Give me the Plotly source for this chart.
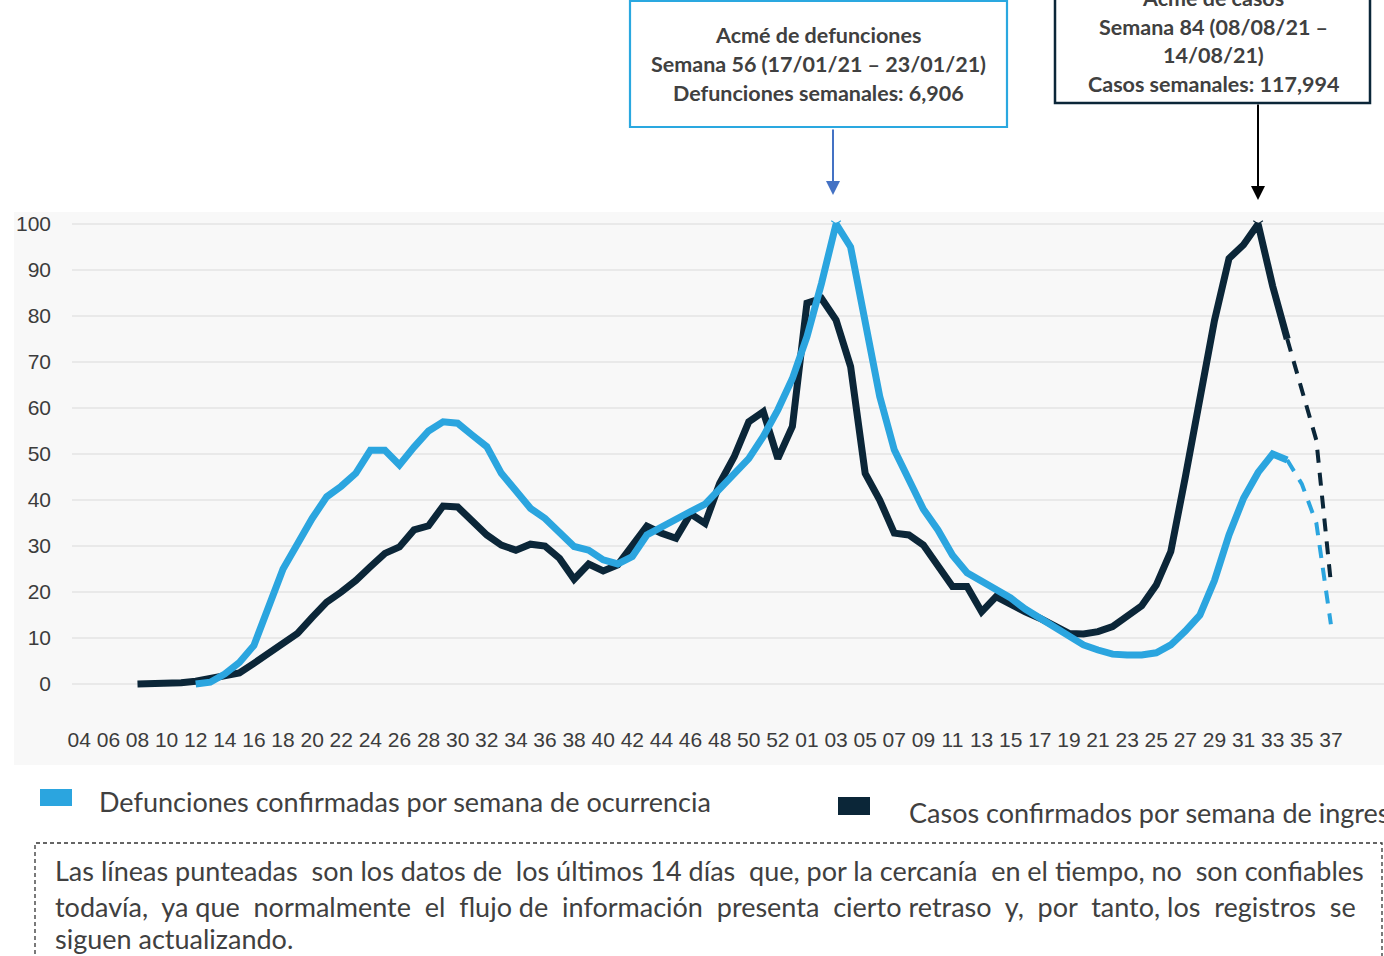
import plotly.graph_objects as go

# ---------------- data ----------------
semanas = [f"2020-{w:02d}" for w in range(4, 54)] + [f"2021-{w:02d}" for w in range(1, 38)]
etiquetas = [s[-2:] for s in semanas]

# Defunciones confirmadas por semana de ocurrencia (% del máximo)
defunciones = [None] * 8 + [
    0, 0.4, 2.2, 4.7, 8.4, 16.7, 25, 30.5, 36, 40.7, 43, 45.8,           # 2020-12 .. 2020-23
    50.8, 50.8, 47.6, 51.5, 55, 57, 56.7, 54.1, 51.6, 45.8, 41.8, 38.2,   # 2020-24 .. 2020-35
    36, 33.1, 29.9, 29.1, 27, 26.1, 27.7, 32.4, 34.2, 35.8, 37.5, 39.1,   # 2020-36 .. 2020-47
    42.3, 45.4, 49, 53.8, 59.6, 66.4,                                     # 2020-48 .. 2020-53
    75.5, 87.1, 100, 95, 79, 62.5, 50.9, 44.5, 38, 33.5, 28, 24.2,        # 2021-01 .. 2021-12
    22.4, 20.5, 18.7, 16.3, 14.3, 12.5, 10.4, 8.5, 7.4, 6.5, 6.3, 6.3,    # 2021-13 .. 2021-24
    6.8, 8.5, 11.5, 15, 22.5, 32.4, 40.4, 46, 50, 48.7, 43.5, 35, 13,     # 2021-25 .. 2021-37
]

# Casos confirmados por semana de ingreso (% del máximo)
casos = [None] * 4 + [
    0, 0, 0, 0.3, 0.6, 1.1, 1.6, 2.4, 4.5, 6.8, 8.7, 11.0,               # 2020-08 .. 2020-19
    14.5, 17.8, 20.0, 22.5, 25.5, 28.4, 29.8, 33.5, 34.4, 38.7, 38.5, 35.3,  # 2020-20 .. 2020-31
    32.4, 30.2, 29.1, 30.4, 30.0, 27.3, 22.8, 26.1, 24.6, 25.9, 29.9, 34.3,  # 2020-32 .. 2020-43
    32.8, 31.7, 37.0, 34.9, 43.6, 49.4, 57.0, 59.2, 49.0, 56.0,            # 2020-44 .. 2020-53
    82.8, 83.8, 79.1, 69.0, 45.8, 40.0, 32.8, 32.4, 30.2, 25.5, 21.2, 21.2,  # 2021-01 .. 2021-12
    15.7, 19.0, 17.2, 15.7, 14.3, 12.8, 11.0, 10.9, 11.4, 12.5, 14.6, 17.0,  # 2021-13 .. 2021-24
    21.5, 28.8, 45.0, 62.0, 79.0, 92.5, 95.5, 100, 86.5, 75.0, 64.0, 53.0, 22.0,  # 2021-25 .. 2021-37
]

ultima_confiable = "2021-34"   # after this week the lines are dashed
ticks_y = list(range(0, 101, 10))

nota = [
    "Las líneas punteadas son los datos de los últimos 14 días que, por la cercanía en el tiempo, no son confiables",
    "todavía, ya que normalmente el flujo de información presenta cierto retraso y, por tanto, los registros se",
    "siguen actualizando.",
]

# ---------------- styling ----------------
AZUL = "#2ba5df"
NEGRO = "#0b2638"
GRIS_TXT = "#404040"
FONT_AX = "Liberation Sans"
FONT_TXT = "Lato"

W, H = 1384, 956
L, R, T, B = 72, 0, 212, 231
PW, PH = W - L - R, H - T - B


def X(px):
    return (px - L) / PW


def Y(py):
    return (H - B - py) / PH


k = semanas.index(ultima_confiable)


def solid(vals):
    return [v if i <= k else None for i, v in enumerate(vals)]


def dashed(vals):
    return [v if i >= k else None for i, v in enumerate(vals)]


def justify(line, n_extra):
    """Emulate justified text by widening n_extra evenly spread word gaps."""
    words = line.split(" ")
    gaps = len(words) - 1
    if n_extra <= 0 or gaps <= 0:
        return line
    chosen = {round((j + 0.5) * gaps / n_extra - 0.5) for j in range(n_extra)}
    out = words[0]
    for g in range(gaps):
        out += (" \u00a0" if g in chosen else " ") + words[g + 1]
    return out


fig = go.Figure()

for vals, col, name in [(casos, NEGRO, "Casos confirmados por semana de ingreso"),
                        (defunciones, AZUL, "Defunciones confirmadas por semana de ocurrencia")]:
    fig.add_trace(go.Scatter(x=semanas, y=solid(vals), mode="lines", name=name,
                             line=dict(color=col, width=7), connectgaps=False,
                             showlegend=False))
    fig.add_trace(go.Scatter(x=semanas, y=dashed(vals), mode="lines",
                             line=dict(color=col, width=4, dash="13px,10px"),
                             showlegend=False))

# small markers at the two maxima
for vals, col in [(defunciones, AZUL), (casos, NEGRO)]:
    m = max(v for v in vals if v is not None)
    idx = vals.index(m)
    fig.add_trace(go.Scatter(x=[semanas[idx]], y=[m], mode="markers",
                             marker=dict(symbol="y-down-open", size=8, color=col,
                                         line=dict(color=col, width=1.2)),
                             showlegend=False))

shapes = []
# light grey chart background
shapes.append(dict(type="rect", xref="paper", yref="paper", x0=X(14), x1=X(1390),
                   y0=Y(765), y1=Y(212), fillcolor="#f8f8f8", line=dict(width=0),
                   layer="below"))
# annotation boxes
shapes.append(dict(type="rect", xref="paper", yref="paper", x0=X(630), x1=X(1007),
                   y0=Y(127), y1=Y(1), fillcolor="white", line=dict(color="#2aa8e0", width=2.2)))
shapes.append(dict(type="rect", xref="paper", yref="paper", x0=X(1055), x1=X(1370),
                   y0=Y(103), y1=Y(-6), fillcolor="white", line=dict(color=NEGRO, width=2.5)))
# legend squares
shapes.append(dict(type="rect", xref="paper", yref="paper", x0=X(40), x1=X(72),
                   y0=Y(806), y1=Y(789), fillcolor=AZUL, line=dict(width=0)))
shapes.append(dict(type="rect", xref="paper", yref="paper", x0=X(838), x1=X(870),
                   y0=Y(815), y1=Y(797), fillcolor=NEGRO, line=dict(width=0)))
# dashed note box
shapes.append(dict(type="rect", xref="paper", yref="paper", x0=X(35), x1=X(1382),
                   y0=Y(975), y1=Y(843), fillcolor="rgba(0,0,0,0)",
                   line=dict(color="#333333", width=1.3, dash="4px,3px")))

annotations = []


def txt(s, px, py, size, anchor="center", bold=False, color=GRIS_TXT):
    annotations.append(dict(text=f"<b>{s}</b>" if bold else s, xref="paper", yref="paper",
                            x=X(px), y=Y(py), xanchor=anchor, yanchor="middle",
                            showarrow=False, font=dict(family=FONT_TXT, size=size, color=color)))


# box texts
txt("Acmé de defunciones", 818, 35, 21.5, bold=True)
txt("Semana 56 (17/01/21 – 23/01/21)", 818, 64, 21.5, bold=True)
txt("Defunciones semanales: 6,906", 818, 93, 21.5, bold=True)
txt("Acmé de casos", 1213, -2, 21.5, bold=True)
txt("Semana 84 (08/08/21 –", 1213, 27, 21.5, bold=True)
txt("14/08/21)", 1213, 55, 21.5, bold=True)
txt("Casos semanales: 117,994", 1213, 84, 21.5, bold=True)

# arrows
annotations.append(dict(text="", xref="paper", yref="paper", x=X(833), y=Y(195),
                        ax=0, ay=-67, showarrow=True, arrowhead=2, arrowsize=1.4,
                        arrowwidth=2, arrowcolor="#4472c4"))
annotations.append(dict(text="", xref="paper", yref="paper", x=X(1258), y=Y(200),
                        ax=0, ay=-97, showarrow=True, arrowhead=2, arrowsize=1.4,
                        arrowwidth=2, arrowcolor="#000000"))

# legend texts
txt("Defunciones confirmadas por semana de ocurrencia", 97, 801, 27, anchor="left")
txt("Casos confirmados por semana de ingreso", 907, 812, 27, anchor="left")

# note (first two lines justified in the original)
txt(justify(nota[0], 5), 53, 870, 27, anchor="left")
txt(justify(nota[1], 12), 53, 906, 27, anchor="left")
txt(nota[2], 53, 938, 27, anchor="left")

fig.update_layout(
    width=W, height=H,
    margin=dict(l=L, r=R, t=T, b=B, pad=0),
    paper_bgcolor="white", plot_bgcolor="#f8f8f8",
    shapes=shapes, annotations=annotations, showlegend=False,
    xaxis=dict(type="category", categoryorder="array", categoryarray=semanas,
               range=[-0.5, 89.65], tickmode="array",
               tickvals=semanas[::2], ticktext=etiquetas[::2], tickangle=0,
               showgrid=False, zeroline=False, showline=False, ticks="",
               tickfont=dict(family=FONT_AX, size=21, color="#3c3c3c")),
    yaxis=dict(range=[-8.9, 102.6], tickmode="array", tickvals=ticks_y,
               showgrid=True, gridcolor="#e9e9e9", gridwidth=1.5, zeroline=False,
               showline=False, ticks="", ticklabelstandoff=20,
               tickfont=dict(family=FONT_AX, size=21, color="#3c3c3c")),
)

fig.write_html("out.html", config={"displayModeBar": False},
               post_script="document.body.style.margin='0px';")
